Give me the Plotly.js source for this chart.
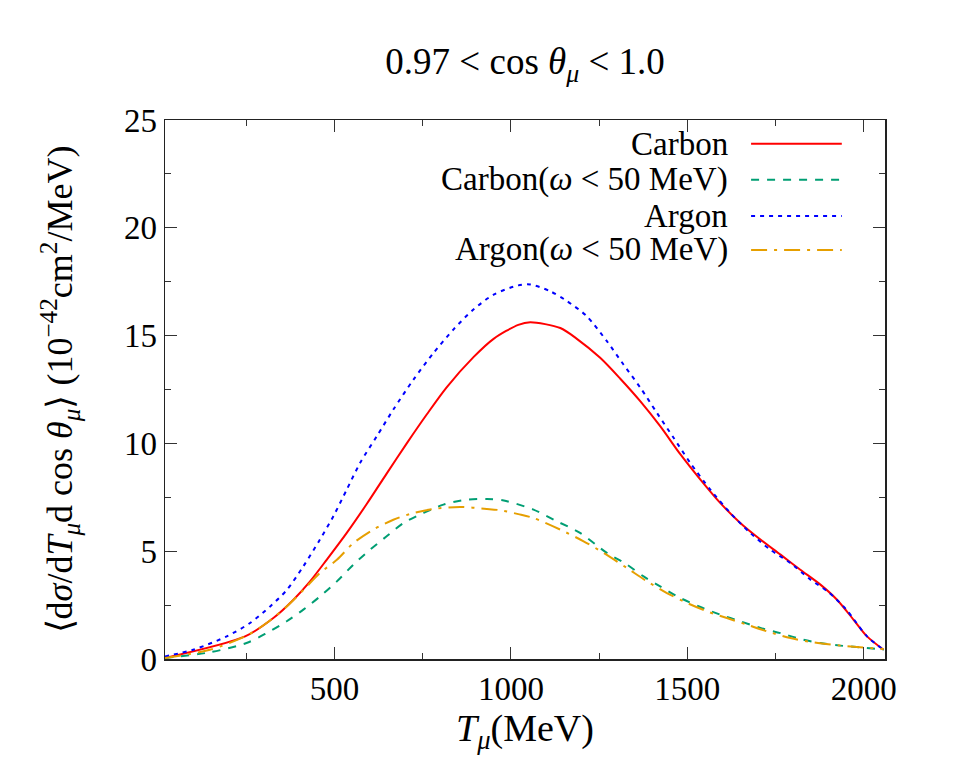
<!DOCTYPE html>
<html>
<head>
<meta charset="utf-8">
<script src="https://cdn.plot.ly/plotly-3.0.1.min.js"></script>
<style>html,body{margin:0;padding:0;background:#fff;}#chart{width:953px;height:780px;}</style>
</head>
<body>
<div id="chart"></div>
<script>
// Carbon (full)
const carbonX = [20, 247, 327, 384, 431, 478, 535, 592, 648, 705, 762, 818, 894, 951, 1021, 1055, 1140, 1187, 1253, 1310, 1367, 1423, 1480, 1537, 1593, 1650, 1707, 1764, 1820, 1877, 1924, 1971, 2009, 2056];
const carbonY = [0.05, 1.05, 1.9, 2.75, 3.6, 4.6, 5.85, 7.2, 8.6, 10.0, 11.35, 12.6, 14.0, 14.85, 15.5, 15.62, 15.35, 14.85, 13.97, 13.0, 11.95, 10.8, 9.5, 8.32, 7.24, 6.31, 5.54, 4.84, 4.14, 3.45, 2.75, 1.82, 1.05, 0.43];
// Carbon (omega < 50 MeV)
const carbonLowX = [20, 147, 251, 308, 365, 412, 459, 507, 554, 601, 648, 696, 752, 809, 875, 932, 980, 1064, 1130, 1196, 1272, 1329, 1376, 1423, 1480, 1537, 1593, 1650, 1707, 1764, 1820, 1877, 1934, 1990, 2056];
const carbonLowY = [0.05, 0.31, 0.74, 1.2, 1.75, 2.29, 2.9, 3.6, 4.38, 5.07, 5.69, 6.31, 6.77, 7.16, 7.39, 7.42, 7.35, 6.93, 6.39, 5.85, 4.92, 4.38, 3.83, 3.37, 2.83, 2.41, 2.06, 1.75, 1.44, 1.2, 0.93, 0.74, 0.62, 0.54, 0.43];
// Argon (full)
const argonX = [20, 100, 195, 261, 318, 365, 412, 459, 497, 535, 573, 620, 667, 724, 781, 837, 894, 951, 1021, 1055, 1111, 1159, 1215, 1272, 1319, 1367, 1414, 1461, 1508, 1565, 1622, 1678, 1735, 1792, 1849, 1900, 1950, 2009, 2056];
const argonY = [0.12, 0.43, 1.05, 1.67, 2.44, 3.2, 4.3, 5.54, 6.62, 7.86, 9.1, 10.33, 11.57, 12.96, 14.2, 15.28, 16.21, 16.9, 17.33, 17.37, 17.06, 16.6, 15.9, 14.74, 13.66, 12.58, 11.41, 10.26, 9.1, 7.86, 6.77, 5.85, 5.07, 4.45, 3.68, 3.1, 2.3, 1.05, 0.43];
// Argon (omega < 50 MeV)
const argonLowX = [20, 147, 251, 308, 365, 412, 459, 507, 554, 610, 667, 724, 781, 856, 932, 970, 1021, 1064, 1140, 1206, 1263, 1329, 1386, 1442, 1499, 1556, 1612, 1669, 1726, 1792, 1858, 1934, 2056];
const argonLowY = [0.05, 0.43, 1.08, 1.67, 2.44, 3.2, 3.99, 4.6, 5.38, 6.0, 6.46, 6.77, 6.96, 7.05, 6.96, 6.9, 6.72, 6.54, 6.0, 5.46, 4.92, 4.22, 3.6, 3.06, 2.6, 2.21, 1.9, 1.59, 1.28, 0.97, 0.77, 0.62, 0.46];

const seriesNames = ["Carbon", "Carbon(<i>ω</i> < 50 MeV)", "Argon", "Argon(<i>ω</i> < 50 MeV)"];
const colors = ["#ff0000", "#009e73", "#0000ff", "#e69f00"];
const dashes = ["solid", "8px,8px", "4px,5px", "16px,7px,3px,7px"];
const xs = [carbonX, carbonLowX, argonX, argonLowX];
const ys = [carbonY, carbonLowY, argonY, argonLowY];

const FONT = "Liberation Serif, Times New Roman, serif";

const traces = xs.map((x, i) => ({
  x: x, y: ys[i], type: "scatter", mode: "lines", name: seriesNames[i],
  line: {color: colors[i], width: 2, dash: dashes[i], shape: "spline", smoothing: 0.8},
  showlegend: false, hoverinfo: "skip"
}));

const legY = [0.956, 0.889, 0.822, 0.759];
const annotations = [];
const shapes = [];
seriesNames.forEach((n, i) => {
  annotations.push({xref: "paper", yref: "paper", x: 0.783, y: legY[i], xanchor: "right", yanchor: "middle",
    text: n, showarrow: false, borderpad: 0, font: {family: FONT, size: 33, color: "#000"}});
  shapes.push({type: "line", xref: "paper", yref: "paper", x0: 0.814, x1: 0.94, y0: legY[i], y1: legY[i],
    line: {color: colors[i], width: 2, dash: dashes[i]}});
});

const axisCommon = {
  showgrid: false, zeroline: false, showline: true, linecolor: "#222", linewidth: 1.5,
  mirror: "ticks", ticks: "inside", ticklen: 12, tickwidth: 1, tickcolor: "#333",
  tickfont: {family: FONT, size: 33, color: "#000"}
};

const layout = {
  width: 953, height: 780,
  margin: {l: 165, r: 68, t: 120, b: 121},
  paper_bgcolor: "#fff", plot_bgcolor: "#fff",
  title: {text: "0.97 < cos <i>θ</i><sub><i>μ</i></sub> < 1.0", x: 0.551, xanchor: "center", y: 0.922, yanchor: "middle",
    font: {family: FONT, size: 37, color: "#000"}},
  xaxis: Object.assign({}, axisCommon, {
    range: [20, 2060], tick0: 0, dtick: 500,
    minor: {dtick: 250, ticks: "inside", ticklen: 6, tickcolor: "#333", tickwidth: 1},
    title: {text: "<i>T</i><sub><i>μ</i></sub>(MeV)", font: {family: FONT, size: 38, color: "#000"}, standoff: 2}
  }),
  yaxis: Object.assign({}, axisCommon, {
    range: [0, 25], tick0: 0, dtick: 5,
    minor: {dtick: 2.5, ticks: "inside", ticklen: 6, tickcolor: "#333", tickwidth: 1},
    title: {text: "⟨d<i>σ</i>/d<i>T</i><sub><i>μ</i></sub>d cos <i>θ</i><sub><i>μ</i></sub>⟩ (10<sup>−42</sup>cm<sup>2</sup>/MeV)", font: {family: FONT, size: 36, color: "#000"}, standoff: 40}
  }),
  annotations: annotations,
  shapes: shapes,
  showlegend: false
};

Plotly.newPlot("chart", traces, layout, {displayModeBar: false, staticPlot: true});
</script>
</body>
</html>
